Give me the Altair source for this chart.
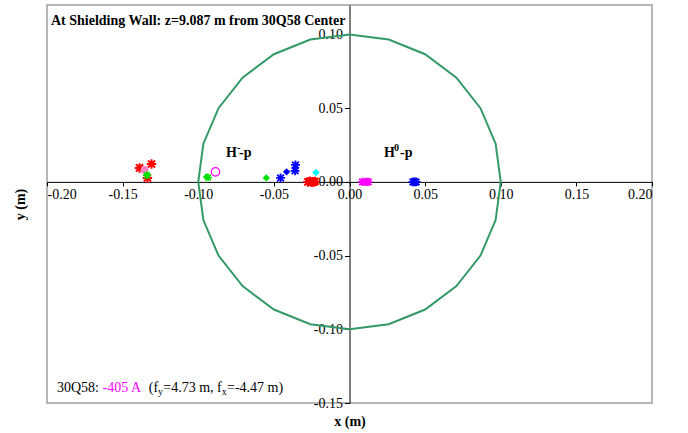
import altair as alt
import pandas as pd

# ---- data ----
circle_x = [0.1000, 0.0966, 0.0866, 0.0707, 0.0500, 0.0259, 0.0000, -0.0259, -0.0500, -0.0707,
            -0.0866, -0.0966, -0.1000, -0.0966, -0.0866, -0.0707, -0.0500, -0.0259, 0.0000,
            0.0259, 0.0500, 0.0707, 0.0866, 0.0966, 0.1000]
circle_y = [0.0000, 0.0259, 0.0500, 0.0707, 0.0866, 0.0966, 0.1000, 0.0966, 0.0866, 0.0707,
            0.0500, 0.0259, 0.0000, -0.0259, -0.0500, -0.0707, -0.0866, -0.0966, -0.1000,
            -0.0966, -0.0866, -0.0707, -0.0500, -0.0259, 0.0000]

red_star_x = [-0.1388, -0.1309, -0.1336, -0.0275, -0.0262, -0.0250, -0.0238, -0.0228]
red_star_y = [0.0095, 0.0122, 0.0027, 0.0000, 0.0005, -0.0003, 0.0000, 0.0003]
pink_dot_x = [-0.1355]
pink_dot_y = [0.0081]
green_diamond_x = [-0.1336, -0.0945, -0.0550]
green_diamond_y = [0.0047, 0.0034, 0.0027]
green_star_x = [-0.1340, -0.0935]
green_star_y = [0.0045, 0.0030]
magenta_ring_x = [-0.0886]
magenta_ring_y = [0.0068]
blue_diamond_x = [-0.0416, -0.0357]
blue_diamond_y = [0.0068, 0.0095]
blue_star_x = [-0.0456, -0.0357, -0.0360, 0.0420, 0.0430, 0.0440]
blue_star_y = [0.0027, 0.0115, 0.0075, 0.0000, 0.0000, 0.0000]
cyan_diamond_x = [-0.0222]
cyan_diamond_y = [0.0064]
magenta_star_x = [0.0085, 0.0100, 0.0115, 0.0125]
magenta_star_y = [0.0000, 0.0000, 0.0000, 0.0000]

x_ticks = [-0.20, -0.15, -0.10, -0.05, 0.00, 0.05, 0.10, 0.15, 0.20]
y_ticks = [-0.15, -0.10, -0.05, 0.00, 0.05, 0.10]

# ---- layout ----
W, H = 605, 398
XD = [-0.2, 0.2]
YD = [-0.15, 0.12]
y0_px = H * (YD[1] / (YD[1] - YD[0]))
x0_px = W * (-XD[0] / (XD[1] - XD[0]))
FONT = "Liberation Serif"
ASTER = "M-1,0L1,0M0,-1L0,1M-0.75,-0.75L0.75,0.75M-0.75,0.75L0.75,-0.75"

lab_expr = "replace(format(datum.value, '.2f'), '\u2212', '-')"

xs = alt.Scale(domain=XD, nice=False, zero=False)
ys = alt.Scale(domain=YD, nice=False, zero=False)

x_axis = alt.Axis(values=x_ticks, labelExpr=lab_expr, offset=y0_px - H, grid=False,
                  labelFont=FONT, labelFontSize=14, labelColor="black", labelPadding=2,
                  domainColor="black", tickColor="black", tickSize=4,
                  title="x (m)", titleFont=FONT, titleFontSize=14, titleFontWeight="bold",
                  titleColor="black",
                  titleY=H - y0_px + 22, titleBaseline="alphabetic")
y_axis = alt.Axis(values=y_ticks, labelExpr=lab_expr, offset=-x0_px, grid=False,
                  labelFont=FONT, labelFontSize=14, labelColor="black", labelPadding=2,
                  domainColor="black", tickColor="black", tickSize=5,
                  title="y (m)", titleFont=FONT, titleFontSize=14, titleFontWeight="bold",
                  titleColor="black",
                  titleX=-x0_px - 27, titleY=H / 2, titleAngle=-90,
                  titleAlign="center", titleBaseline="middle")

circle_df = pd.DataFrame({"x": circle_x, "y": circle_y, "i": list(range(len(circle_x)))})
circle = alt.Chart(circle_df).mark_line(color="#339966", strokeWidth=2, clip=True).encode(
    x=alt.X("x:Q", scale=xs, axis=x_axis),
    y=alt.Y("y:Q", scale=ys, axis=y_axis),
    order="i:Q",
)


def pts(xv, yv, shape, color, size, filled, sw=1.2):
    df = pd.DataFrame({"x": xv, "y": yv})
    if filled:
        m = alt.Chart(df).mark_point(shape=shape, color=color, filled=True, opacity=1, size=size)
    else:
        m = alt.Chart(df).mark_point(shape=shape, color=color, filled=False, opacity=1,
                                     size=size, strokeWidth=sw)
    return m.encode(x=alt.X("x:Q", scale=xs), y=alt.Y("y:Q", scale=ys))


layers = [
    circle,
    pts(red_star_x, red_star_y, ASTER, "#FF0000", 90, False, 2),
    pts(pink_dot_x, pink_dot_y, "circle", "#FF80C0", 60, True),
    pts(green_diamond_x, green_diamond_y, "diamond", "#00E000", 55, True),
    pts(green_star_x, green_star_y, ASTER, "#00E000", 60, False, 1.5),
    pts(magenta_ring_x, magenta_ring_y, "circle", "#FF00FF", 70, False, 1.3),
    pts(blue_diamond_x, blue_diamond_y, "diamond", "#0000FF", 55, True),
    pts(blue_star_x, blue_star_y, ASTER, "#0000FF", 80, False, 1.8),
    pts(cyan_diamond_x, cyan_diamond_y, "diamond", "#00FFFF", 55, True),
    pts(magenta_star_x, magenta_star_y, ASTER, "#FF00FF", 70, False, 1.8),
]

one = pd.DataFrame({"a": [0]})


def txt(text, px, py, size=14, weight="normal", color="black", align="left"):
    return alt.Chart(one).mark_text(text=text, font=FONT, fontSize=size, fontWeight=weight,
                                    color=color, align=align, baseline="alphabetic").encode(
        x=alt.value(px), y=alt.value(py))


# footnote pieces: positions follow on from each other (Times-metric widths at 14px)
fx0 = 10
fx1 = fx0 + 45.5      # after "30Q58: "
fx2 = fx1 + 39.3 + 7  # after "-405 A  "
fx3 = fx2 + 9.3       # after "(f"
fx4 = fx3 + 5.2       # after subscript y
fx5 = fx4 + 58.5      # after "=4.73 m, f"
fx6 = fx5 + 5.2       # after subscript x

texts = [
    txt("At Shielding Wall: z=9.087 m from 30Q58 Center", 4, 20, 14, "bold"),
    txt("H", 179, 152, 14, "bold"),
    txt("-", 190, 146, 10, "bold"),
    txt("-p", 192, 152, 14, "bold"),
    txt("H", 337, 152, 14, "bold"),
    txt("0", 347, 146, 10, "bold"),
    txt("-p", 353, 152, 14, "bold"),
    txt("30Q58:", fx0, 387),
    txt("-405 A", fx1, 387, color="#FF00FF"),
    txt("(f", fx2, 387),
    txt("y", fx3, 390, 10),
    txt("=4.73 m, f", fx4, 387),
    txt("x", fx5, 390, 10),
    txt("=-4.47 m)", fx6, 387),
]

chart = alt.layer(*layers, *texts).properties(
    width=W, height=H,
    background="white",
    autosize=alt.AutoSizeParams(type="none"),
    padding={"left": 47, "top": 5, "right": 36, "bottom": 30},
).configure_view(
    stroke="#A0A0A0", strokeWidth=1.5
).configure_axis(
    domainColor="black", tickColor="black", tickSize=4, domainWidth=1, tickWidth=1,
    labelFont=FONT, labelFontSize=14, labelColor="black", labelPadding=2,
    titleColor="black",
)

chart.save("out.html", embed_options={"renderer": "svg", "actions": False})
